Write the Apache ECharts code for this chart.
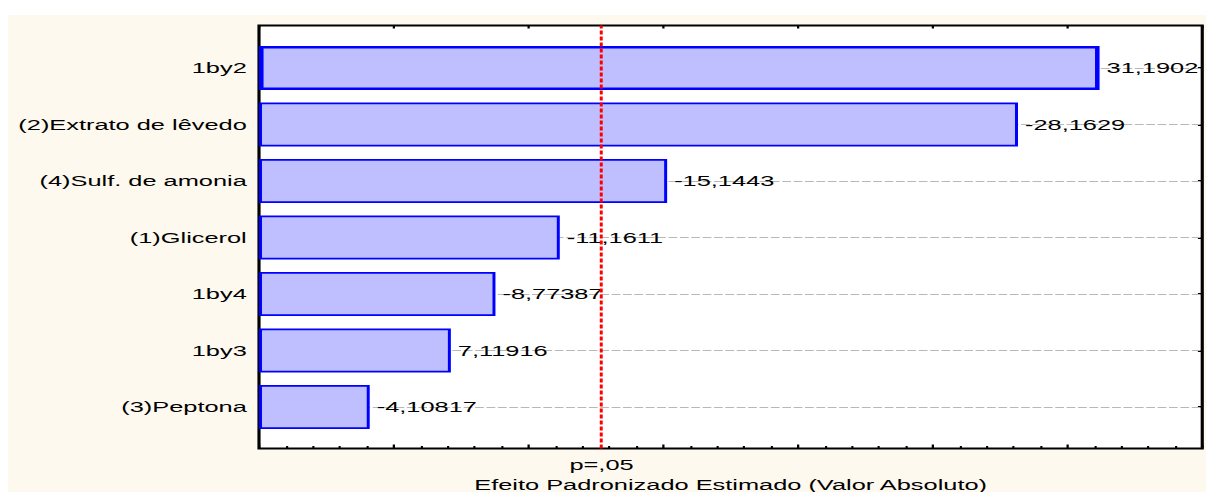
<!DOCTYPE html>
<html>
<head>
<meta charset="utf-8">
<script src="https://cdn.jsdelivr.net/npm/echarts@6/dist/echarts.min.js"></script>
<style>
  html, body { margin: 0; padding: 0; background: #ffffff; width: 1208px; height: 492px; overflow: hidden; }
  #panel { position: absolute; left: 8px; top: 15px; width: 1198px; height: 477px; overflow: hidden; background: #FDF9EF; }
  #chart { position: absolute; left: 0; top: 0; height: 477px; transform-origin: 0 0; }
</style>
</head>
<body>
<div id="panel"><div id="chart"></div></div>
<script>
// Pareto chart of standardized effects
const categories = [
  '1by2',
  '(2)Extrato de lêvedo',
  '(4)Sulf. de amonia',
  '(1)Glicerol',
  '1by4',
  '1by3',
  '(3)Peptona'
];
const effects = [31.19023, -28.1629, -15.1443, -11.1611, -8.77387, 7.11916, -4.10817];
const pCritical = 12.706;      // t critical value for p = .05
const pLabel = 'p=,05';
const axisTitle = 'Efeito Padronizado Estimado (Valor Absoluto)';
const xMin = 0, xMax = 35, xMajor = 5;

// The graph is drawn in a narrow box and widened horizontally
const stretch = 1.75;
const panelW = 1198, panelH = 477;
const W = panelW / stretch;
const el = document.getElementById('chart');
el.style.width = W + 'px';
el.style.transform = 'scaleX(' + stretch + ')';

const font = "'Liberation Sans', Arial, sans-serif";
const fontSize = 14.5;
const ink = '#000000';

const frameLeft = 251 / stretch;
const frameRight = 4.5 / stretch;

const barData = effects.map((v, i) => {
  const item = { value: Math.abs(v) };
  if (i === 0) {
    item.itemStyle = { borderWidth: 2.6 };
    item.label = { width: 55, overflow: 'truncate', ellipsis: '' };
  }
  return item;
});

const chart = echarts.init(el, null, { renderer: 'svg' });
chart.setOption({
  animation: false,
  backgroundColor: 'transparent',
  grid: [
    // bars
    { left: frameLeft, right: frameRight, top: 24.75, bottom: 56.75,
      containLabel: false, outerBoundsMode: 'none' },
    // frame
    { left: frameLeft, right: frameRight, top: 10.5, bottom: 43.5,
      containLabel: false, outerBoundsMode: 'none',
      show: true, backgroundColor: '#ffffff', borderColor: '#000000', borderWidth: 1.8 }
  ],
  xAxis: [
    { gridIndex: 0, type: 'value', min: xMin, max: xMax, interval: xMajor, show: false },
    { gridIndex: 1, type: 'value', min: xMin, max: xMax, interval: xMajor, position: 'bottom',
      axisLine: { show: false },
      axisTick: { show: true, inside: true, length: 4, lineStyle: { color: '#000', width: 1.3 } },
      minorTick: { show: true, splitNumber: 5, length: 2.5, lineStyle: { color: '#000', width: 1.2 } },
      axisLabel: { show: false },
      splitLine: { show: false },
      name: axisTitle, nameLocation: 'middle', nameGap: 29,
      nameTextStyle: { fontFamily: font, fontSize: fontSize, color: ink } },
    { gridIndex: 1, type: 'value', min: xMin, max: xMax, interval: xMajor, position: 'top',
      axisLine: { show: false },
      axisTick: { show: true, inside: true, length: 3, lineStyle: { color: '#000', width: 1.3 } },
      axisLabel: { show: false },
      splitLine: { show: false } }
  ],
  yAxis: [
    { gridIndex: 0, type: 'category', data: categories, inverse: true, position: 'left',
      axisLine: { show: false },
      axisTick: { show: true, inside: true, alignWithLabel: true, length: 2.5, lineStyle: { color: '#000', width: 2 } },
      axisLabel: { margin: 7, fontFamily: font, fontSize: fontSize, color: ink },
      splitLine: { show: false } },
    { gridIndex: 0, type: 'category', data: categories, inverse: true, position: 'right',
      axisLine: { show: false },
      axisTick: { show: true, inside: true, alignWithLabel: true, length: 2.5, lineStyle: { color: '#000', width: 2 } },
      axisLabel: { show: false },
      splitLine: { show: false } },
    { gridIndex: 1, type: 'value', min: 0, max: 1, show: false }
  ],
  series: [
    {
      type: 'bar',
      xAxisIndex: 0,
      yAxisIndex: 0,
      data: barData,
      barWidth: 44,
      z: 2,
      itemStyle: { color: '#BFBFFF', borderColor: '#0000FF', borderWidth: 1.7 },
      label: {
        show: true,
        position: 'right',
        distance: 4,
        fontFamily: font,
        fontSize: fontSize,
        color: ink,
        formatter: p => String(effects[p.dataIndex]).replace('.', ',')
      },
      markLine: {
        silent: true,
        z: 1,
        symbol: ['none', 'none'],
        label: { show: false },
        lineStyle: { color: '#B8B8B8', type: [5, 1.5], width: 1 },
        data: categories.map(c => ({ yAxis: c }))
      }
    },
    {
      type: 'line',
      xAxisIndex: 1,
      yAxisIndex: 2,
      data: [],
      markLine: {
        silent: true,
        z: 6,
        symbol: ['none', 'none'],
        lineStyle: { color: '#FF0000', type: [4, 2], width: 1.7 },
        label: { show: true, position: 'start', distance: 9, formatter: pLabel,
                 fontFamily: font, fontSize: fontSize, color: ink },
        data: [{ xAxis: pCritical }]
      }
    }
  ]
});
</script>
</body>
</html>
